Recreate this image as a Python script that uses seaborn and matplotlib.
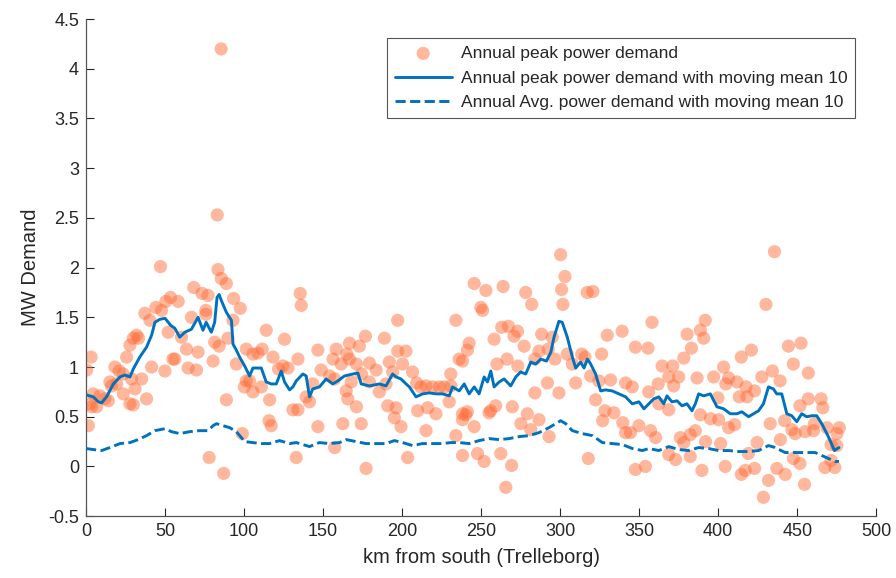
import pandas as pd
import numpy as np
import matplotlib
matplotlib.use('Agg')
import matplotlib.pyplot as plt
import seaborn as sns

# ── Data ───────────────────────────────────────────────────────
peak_km = [
    47.1, 83.5, 85.6, 88.8, 68.2, 73.4, 77.2, 93.4, 97.6, 53.5, 58.3, 50.5, 44.2, 37.2, 40.4,
    47.8, 66.7, 75.8, 75.8, 93.0, 32.0, 33.2, 29.9, 52.0, 60.4, 27.8, 63.6, 70.9, 81.4, 84.2,
    89.8, 25.7, 56.2, 55.0, 95.1, 101.4, 105.6, 108.7, 111.5, 114.0, 118.3, 41.5, 49.9, 64.6, 69.9,
    80.4, 3.2, 0.4, 18.3, 21.0, 23.6, 15.1, 16.2, 19.4, 28.8, 35.2, 31.0, 23.6, 27.8, 29.9,
    38.3, 4.6, 8.8, 11.9, 14.1, 2.5, 3.6, 6.7, 1.5, 88.8, 77.9, 87.1, 98.9, 100.2, 101.4,
    103.5, 105.6, 110.9, 116.2, 115.8, 117.2, 121.8, 83.0, 85.5,
    135.5, 136.2, 125.6, 134.1, 146.7, 158.3, 166.7, 172.9, 176.8, 165.0, 156.3, 161.5, 166.7, 179.3, 183.6,
    174.3, 171.1, 188.8, 197.2, 191.9, 200.3, 202.4, 197.2, 194.0, 127.8, 124.6, 148.8, 154.1, 157.3, 143.5,
    139.3, 141.4, 164.6, 167.8, 179.3, 185.6, 189.8, 130.9, 134.1, 146.7, 162.5, 174.1, 165.6, 171.1, 190.9,
    195.1, 199.3, 196.2, 157.3, 133.0, 177.2, 203.5, 209.2, 211.9, 215.1, 219.3, 223.5, 226.7, 209.8, 216.2,
    221.4, 206.6, 215.1, 234.0, 238.2, 240.3, 234.0, 238.2, 241.3, 230.8, 230.8, 229.8, 238.2, 245.6,
    300.3, 303.0, 300.9, 301.7, 253.0, 263.9, 278.2, 282.0, 249.8, 250.9, 317.1, 320.7, 358.1, 263.0, 267.3,
    273.0, 270.8, 258.2, 242.4, 236.1, 288.3, 295.0, 277.2, 286.6, 292.5, 284.0, 260.0, 266.4, 273.2, 296.7,
    304.5, 313.6, 315.7, 329.8, 339.2, 347.6, 355.6, 307.7, 309.8, 319.3, 324.5, 331.9, 341.4, 345.6, 326.2,
    284.0, 291.9, 299.2, 322.4, 328.3, 334.0, 326.9, 339.6, 341.4, 344.5, 349.8, 357.2, 360.4, 238.2, 241.3,
    255.0, 256.0, 259.2, 269.7, 279.2, 286.6, 245.6, 275.1, 281.4, 293.0, 247.7, 251.9, 262.4, 269.3, 317.8,
    265.6, 347.6, 353.9,
    435.6, 430.2, 391.8, 388.7, 390.8, 380.3, 383.0, 378.2, 364.5, 371.2, 375.0, 368.7, 362.0, 371.8, 386.6,
    403.4, 397.1, 406.6, 411.8, 399.8, 404.8, 414.6, 421.0, 417.6, 423.0, 418.2, 413.3, 444.4, 452.4, 447.5,
    427.6, 434.3, 439.1, 457.0, 457.0, 451.7, 465.1, 466.2, 356.0, 362.4, 368.7, 388.7, 395.1, 400.3, 406.6,
    410.4, 432.9, 442.0, 446.6, 448.7, 455.0, 460.9, 460.3, 468.8, 476.6, 475.1, 376.0, 382.3, 385.5, 378.2,
    392.0, 401.5, 424.6, 439.3, 471.4, 475.0, 368.7, 373.0, 382.3, 419.1, 447.5, 451.7, 467.5, 473.8, 471.4,
    389.7, 404.4, 414.6, 417.1, 423.0, 437.1, 442.4, 431.8, 454.6, 428.6,
]
peak_mw = [
    2.01, 1.98, 1.89, 1.84, 1.80, 1.74, 1.72, 1.69, 1.59, 1.70, 1.66, 1.66, 1.60, 1.54, 1.47,
    1.57, 1.50, 1.57, 1.53, 1.47, 1.32, 1.29, 1.29, 1.35, 1.30, 1.22, 1.18, 1.15, 1.25, 1.21,
    1.29, 1.10, 1.08, 1.08, 1.03, 1.18, 1.13, 1.14, 1.18, 1.37, 1.10, 1.00, 0.96, 0.99, 0.97,
    1.06, 1.10, 0.97, 1.00, 0.96, 0.93, 0.85, 0.81, 0.83, 0.88, 0.88, 0.78, 0.73, 0.63, 0.62,
    0.68, 0.73, 0.71, 0.68, 0.66, 0.63, 0.60, 0.60, 0.41, 0.67, 0.09, -0.07, 0.33, 0.80, 0.86,
    0.86, 0.75, 0.80, 0.67, 0.46, 0.41, 0.98, 2.53, 4.20,
    1.74, 1.62, 1.28, 1.08, 1.17, 1.18, 1.24, 1.21, 1.31, 1.13, 1.08, 1.03, 1.08, 1.04, 0.97,
    0.93, 1.03, 1.29, 1.47, 1.05, 1.03, 1.16, 1.16, 0.95, 0.99, 1.01, 0.97, 0.91, 0.88, 0.83,
    0.70, 0.65, 0.76, 0.85, 0.85, 0.75, 0.83, 0.57, 0.57, 0.40, 0.43, 0.43, 0.68, 0.60, 0.61,
    0.49, 0.40, 0.59, 0.19, 0.09, -0.02, 0.09, 0.84, 0.80, 0.81, 0.80, 0.80, 0.80, 0.56, 0.59,
    0.53, 0.95, 0.36, 0.31, 0.47, 0.52, 1.47, 1.06, 1.17, 0.93, 0.81, 0.65, 0.11, 1.84,
    2.13, 1.91, 1.78, 1.63, 1.77, 1.81, 1.75, 1.63, 1.60, 1.57, 1.75, 1.76, 1.45, 1.40, 1.41,
    1.36, 1.31, 1.28, 1.24, 1.08, 1.33, 1.30, 1.21, 1.16, 1.18, 1.08, 1.03, 1.08, 1.01, 1.08,
    1.13, 1.13, 1.10, 1.32, 1.36, 1.20, 1.19, 1.03, 0.84, 0.91, 0.86, 0.87, 0.84, 0.80, 1.13,
    0.74, 0.84, 0.74, 0.67, 0.56, 0.54, 0.46, 0.44, 0.34, 0.34, 0.41, 0.36, 0.29, 0.53, 0.55,
    0.54, 0.56, 0.61, 0.60, 0.53, 0.47, 0.40, 0.43, 0.37, 0.30, 0.13, 0.05, 0.13, 0.01, 0.08,
    -0.21, -0.03, 0.00,
    2.16, 1.63, 1.47, 1.37, 1.29, 1.33, 1.19, 1.09, 1.01, 1.01, 0.90, 0.90, 0.83, 0.81, 0.89,
    1.00, 0.90, 0.89, 0.85, 0.69, 0.83, 1.10, 1.17, 0.80, 0.76, 0.70, 0.70, 1.21, 1.24, 1.03,
    0.90, 0.96, 0.86, 0.94, 0.68, 0.61, 0.68, 0.59, 0.75, 0.63, 0.57, 0.52, 0.48, 0.47, 0.39,
    0.42, 0.43, 0.46, 0.37, 0.33, 0.35, 0.43, 0.36, 0.39, 0.39, 0.33, 0.29, 0.32, 0.36, 0.24,
    0.25, 0.23, 0.24, 0.27, 0.22, 0.21, 0.12, 0.07, 0.10, 0.13, 0.08, 0.03, -0.01, -0.01, 0.06,
    -0.04, 0.00, -0.08, -0.04, -0.02, -0.02, -0.08, -0.14, -0.18, -0.31,
]

# moving mean of annual peak
peak_mm_km = [
    0.0, 4.6, 7.8, 9.9, 13.0, 17.3, 21.5, 24.6, 27.8, 29.9, 34.0, 38.3, 41.5, 43.6, 46.7,
    50.0, 53.5, 56.2, 59.3, 62.5, 66.7, 70.9, 74.0, 76.0, 79.3, 81.4, 82.9, 84.2, 85.6, 88.8,
    92.0, 93.0, 95.1, 97.2, 100.4, 103.5, 105.6, 110.9, 114.0, 117.2, 120.4, 123.5, 125.6, 128.8, 130.9,
    133.0, 137.2, 139.3, 141.4, 143.5, 147.7, 151.9, 156.1, 159.3, 163.5, 168.8, 172.0, 174.1, 179.3, 185.6,
    189.8, 194.0, 196.2, 199.3, 202.5, 204.6, 208.8, 213.0, 217.2, 221.4, 225.6, 229.8, 231.9, 236.1, 239.3,
    242.4, 245.6, 248.7, 251.9, 254.0, 256.1, 258.2, 261.4, 264.5, 268.7, 271.9, 275.0, 278.2, 281.4, 284.5,
    287.7, 291.3, 294.1, 296.1, 299.2, 301.3, 304.5, 307.7, 309.8, 312.9, 315.1, 317.2, 319.3, 322.4, 325.6,
    328.7, 332.9, 337.1, 341.4, 345.6, 349.8, 353.0, 356.1, 359.2, 362.4, 365.5, 367.6, 370.7, 373.9, 377.1,
    380.2, 383.4, 385.5, 387.6, 390.8, 395.0, 399.2, 403.4, 407.6, 411.8, 414.9, 419.2, 422.3, 425.5, 428.6,
    431.8, 434.9, 437.0, 440.2, 443.4, 446.5, 449.7, 452.8, 456.0, 459.2, 462.3, 465.5, 469.7, 473.5, 476.4,
]
peak_mm_mw = [
    0.72, 0.70, 0.65, 0.64, 0.70, 0.83, 0.90, 0.92, 0.90, 0.98, 1.10, 1.20, 1.32, 1.45, 1.48,
    1.49, 1.42, 1.39, 1.30, 1.35, 1.38, 1.50, 1.37, 1.45, 1.35, 1.45, 1.70, 1.73, 1.67, 1.55,
    1.47, 1.23, 1.17, 1.10, 1.01, 0.91, 0.99, 0.99, 0.85, 0.83, 0.83, 0.96, 0.85, 0.77, 0.80,
    0.86, 0.93, 0.91, 0.70, 0.78, 0.80, 0.88, 0.83, 0.86, 0.91, 0.93, 0.94, 0.83, 0.81, 0.83,
    0.81, 0.93, 0.90, 0.88, 0.83, 0.80, 0.70, 0.73, 0.74, 0.73, 0.73, 0.71, 0.80, 0.76, 0.83,
    0.73, 0.80, 0.73, 0.90, 0.85, 0.96, 0.80, 0.85, 0.88, 0.81, 0.90, 0.95, 0.93, 1.05, 1.03,
    1.08, 1.06, 1.15, 1.30, 1.46, 1.45, 1.30, 1.10, 0.99, 1.05, 0.99, 1.08, 1.03, 0.93, 0.76,
    0.77, 0.76, 0.73, 0.70, 0.63, 0.65, 0.58, 0.63, 0.68, 0.70, 0.63, 0.71, 0.65, 0.66, 0.61,
    0.63, 0.56, 0.63, 0.73, 0.71, 0.73, 0.60, 0.58, 0.53, 0.53, 0.55, 0.50, 0.53, 0.56, 0.63,
    0.80, 0.78, 0.73, 0.73, 0.53, 0.51, 0.45, 0.53, 0.50, 0.51, 0.51, 0.43, 0.30, 0.16, 0.19,
]

# moving mean of annual average
avg_mm_km = [
    0.0, 4.6, 9.9, 15.1, 21.5, 27.8, 33.0, 38.3, 43.6, 50.0, 54.0, 59.3, 65.6, 71.9, 77.2,
    80.4, 82.5, 86.7, 90.9, 95.1, 100.4, 105.6, 110.9, 116.2, 122.4, 128.8, 133.0, 141.4, 147.7, 154.1,
    160.4, 164.6, 170.9, 177.2, 183.5, 189.8, 195.1, 200.3, 206.6, 212.9, 219.3, 225.6, 230.8, 236.1, 242.4,
    248.7, 255.0, 261.4, 267.7, 274.0, 280.3, 286.6, 292.9, 298.2, 300.3, 303.5, 307.7, 314.1, 320.4, 326.7,
    333.0, 339.4, 345.7, 352.0, 356.1, 362.4, 368.7, 375.0, 381.3, 387.6, 393.9, 400.3, 406.6, 412.9, 419.2,
    425.5, 431.8, 436.0, 442.3, 448.6, 455.0, 461.3, 465.5, 469.7, 473.9, 476.4,
]
avg_mm_mw = [
    0.18, 0.17, 0.16, 0.19, 0.23, 0.24, 0.27, 0.31, 0.36, 0.38, 0.35, 0.33, 0.35, 0.36, 0.36,
    0.41, 0.43, 0.41, 0.39, 0.35, 0.25, 0.24, 0.23, 0.23, 0.26, 0.23, 0.24, 0.20, 0.24, 0.23,
    0.24, 0.27, 0.25, 0.23, 0.23, 0.23, 0.26, 0.24, 0.21, 0.23, 0.23, 0.23, 0.24, 0.24, 0.23,
    0.26, 0.28, 0.27, 0.28, 0.30, 0.31, 0.34, 0.39, 0.44, 0.46, 0.43, 0.36, 0.33, 0.31, 0.24,
    0.23, 0.22, 0.18, 0.16, 0.18, 0.16, 0.20, 0.17, 0.16, 0.19, 0.18, 0.16, 0.16, 0.15, 0.15,
    0.16, 0.21, 0.19, 0.14, 0.14, 0.14, 0.14, 0.11, 0.08, 0.05, 0.05,
]

peak_df = pd.DataFrame({'km': peak_km, 'mw': peak_mw})
peak_mm_df = pd.DataFrame({'km': peak_mm_km, 'mw': peak_mm_mw})
avg_mm_df = pd.DataFrame({'km': avg_mm_km, 'mw': avg_mm_mw})

# ── Style ──────────────────────────────────────────────────────
sns.set_style('ticks')
plt.rcParams['font.family'] = ['Liberation Sans', 'DejaVu Sans']
plt.rcParams['xtick.direction'] = 'in'
plt.rcParams['ytick.direction'] = 'in'

blue = '#0072BD'
orange = '#FF6A33'

fig = plt.figure(figsize=(8.96, 5.78), dpi=100)
ax = fig.add_axes([0.096, 0.107, 0.882, 0.860])

sns.scatterplot(data=peak_df, x='km', y='mw', ax=ax, color=orange, alpha=0.48,
                s=90, edgecolor='none', label='Annual peak power demand', zorder=2)
sns.lineplot(data=peak_mm_df, x='km', y='mw', ax=ax, color=blue, linewidth=2.1,
             sort=False, estimator=None,
             label='Annual peak power demand with moving mean 10', zorder=3)
sns.lineplot(data=avg_mm_df, x='km', y='mw', ax=ax, color=blue, linewidth=2.1,
             sort=False, estimator=None, linestyle=(0, (3.5, 1.5)),
             label='Annual Avg. power demand with moving mean 10', zorder=3)

ax.set_xlim(0, 500)
ax.set_ylim(-0.5, 4.5)
ax.set_xticks(np.arange(0, 501, 50))
ax.set_yticks(np.arange(-0.5, 4.51, 0.5))
ax.set_yticklabels(['-0.5', '0', '0.5', '1', '1.5', '2', '2.5', '3', '3.5', '4', '4.5'])
ax.tick_params(labelsize=13, colors='#262626', length=5.5, width=0.8, pad=5)
ax.set_xlabel('km from south (Trelleborg)', fontsize=14.5, color='#262626', labelpad=6)
ax.set_ylabel('MW Demand', fontsize=14.5, color='#262626', labelpad=6)
sns.despine(ax=ax)
for s in ['left', 'bottom']:
    ax.spines[s].set_color('#555555')
    ax.spines[s].set_linewidth(0.9)

leg = ax.legend(loc='upper right', bbox_to_anchor=(0.973, 0.962), fontsize=12.5,
                frameon=True, fancybox=False, framealpha=1, edgecolor='#555555',
                handlelength=3.3, borderpad=0.45, labelspacing=0.55, handletextpad=0.5,
                borderaxespad=0)
leg.get_frame().set_linewidth(0.8)

plt.savefig('out.png', dpi=100)
